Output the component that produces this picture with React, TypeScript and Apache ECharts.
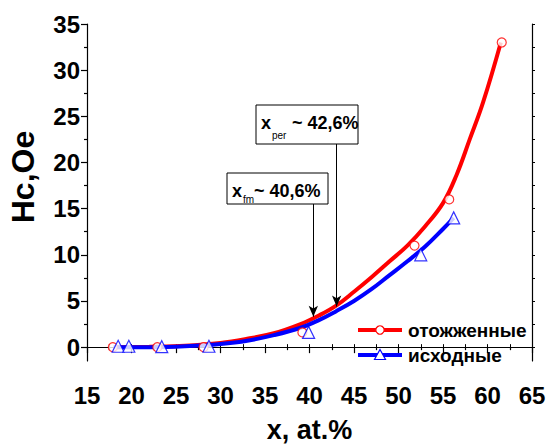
import React, { useEffect, useRef } from "react";
import * as echarts from "echarts";

// Measured points
const annealedX = [17.9, 22.9, 28.1, 39.2, 51.8, 55.7, 61.6];
const annealedY = [0, 0, 0, 1.6, 11.0, 16.0, 33.0];
const initialX = [18.5, 19.7, 23.4, 28.7, 39.9, 52.5, 56.2];
const initialY = [0.1, 0.1, 0.05, 0.1, 1.6, 10.0, 14.0];

// Fitted curves
const annealedFitX = [18, 22, 26, 30, 33, 36, 39, 41, 43, 45, 47, 49, 51, 53, 55, 56.5, 58, 59.5, 61.5];
const annealedFitY = [0, 0.05, 0.15, 0.45, 0.9, 1.5, 2.5, 3.4, 4.5, 6.0, 7.6, 9.3, 11.0, 13.1, 15.6, 18.6, 22.5, 26.5, 33];
const initialFitX = [18, 22, 26, 30, 33, 36, 39, 41, 43, 45, 47, 49, 51, 53, 55, 56.2];
const initialFitY = [0, 0, 0.1, 0.35, 0.7, 1.3, 2.1, 2.9, 3.9, 5.0, 6.3, 7.8, 9.3, 10.9, 12.8, 14.0];

// Axis ticks
const yLabelValues = [0, 5, 10, 15, 20, 25, 30, 35];
const yMinorValues = [2.5, 7.5, 12.5, 17.5, 22.5, 27.5, 32.5];
const yAllTicks = [0, 2.5, 5, 7.5, 10, 12.5, 15, 17.5, 20, 22.5, 25, 27.5, 30, 32.5, 35];

// Annotations: arrow x, arrow start y (box bottom), arrow end y (curve)
const arrowX = [40.43, 43.05];
const arrowStartY = [15.5, 22.0];
const arrowEndY = [3.3, 4.4];

const seriesNames = ["отожженные", "исходные"];
const FONT = "'Liberation Sans', Arial, sans-serif";

const zip = (xs: number[], ys: number[]) => xs.map((x, i) => [x, ys[i]]);

export default function App() {
  const ref = useRef<HTMLDivElement>(null);
  useEffect(() => {
    if (!ref.current) return;
    const chart = echarts.init(ref.current, undefined, { renderer: "svg" });
    const axisLine = { show: true, lineStyle: { color: "#000", width: 1.2 } };
    const labelStyle = { color: "#000", fontWeight: "bold" as const, fontSize: 24, fontFamily: FONT };
    const option: any = {
      animation: false,
      backgroundColor: "#fff",
      grid: { left: 87, right: 16, top: 24, bottom: 84, containLabel: false, outerBoundsMode: "none" },
      xAxis: [
        {
          type: "value",
          min: 15,
          max: 65,
          interval: 5,
          position: "bottom",
          axisLine,
          axisTick: { show: true, length: 6, inside: false, lineStyle: { color: "#000", width: 1.2 } },
          minorTick: { show: true, splitNumber: 2, length: 3, lineStyle: { color: "#000", width: 1.2 } },
          axisLabel: { ...labelStyle, margin: 22 },
          splitLine: { show: false },
          name: "x, at.%",
          nameLocation: "middle",
          nameGap: 55,
          nameTextStyle: { color: "#000", fontWeight: "bold", fontSize: 27, fontFamily: FONT },
        },
        {
          type: "value",
          min: 15,
          max: 65,
          interval: 5,
          position: "top",
          axisLine,
          axisTick: { show: true, length: 3, lineStyle: { color: "#000", width: 1 } },
          minorTick: { show: true, splitNumber: 2, length: 3, lineStyle: { color: "#000", width: 1 } },
          axisLabel: { show: false },
          splitLine: { show: false },
        },
      ],
      yAxis: [
        {
          type: "value",
          min: -1.5,
          max: 35,
          position: "left",
          axisLine,
          axisTick: { show: true, length: 6, customValues: yLabelValues, lineStyle: { color: "#000", width: 1.2 } },
          axisLabel: { ...labelStyle, margin: 7, customValues: yLabelValues },
          splitLine: { show: false },
        },
        {
          type: "value",
          min: -1.5,
          max: 35,
          position: "right",
          axisLine,
          axisTick: { show: true, length: 3, customValues: yAllTicks, lineStyle: { color: "#000", width: 1 } },
          axisLabel: { show: false },
          splitLine: { show: false },
        },
        {
          type: "value",
          min: -1.5,
          max: 35,
          position: "left",
          axisLine: { show: false },
          axisTick: { show: true, length: 3, customValues: yMinorValues, lineStyle: { color: "#000", width: 1.2 } },
          axisLabel: { show: false },
          splitLine: { show: false },
        },
      ],
      series: [
        {
          name: seriesNames[0] + " fit",
          type: "line",
          data: zip(annealedFitX, annealedFitY),
          smooth: 0.4,
          showSymbol: false,
          lineStyle: { color: "#ff0000", width: 4 },
          z: 2,
          silent: true,
          markLine: {
            silent: true,
            symbol: ["none", "arrow"],
            symbolSize: [7, 11],
            label: { show: false },
            lineStyle: { color: "#000", width: 1, type: "solid" },
            data: arrowX.map((x, i) => [
              { coord: [x, arrowStartY[i]] },
              { coord: [x, arrowEndY[i]] },
            ]),
          },
        },
        {
          name: seriesNames[1] + " fit",
          type: "line",
          data: zip(initialFitX, initialFitY),
          smooth: 0.4,
          showSymbol: false,
          lineStyle: { color: "#0000ff", width: 4 },
          z: 3,
          silent: true,
        },
        {
          name: seriesNames[0],
          type: "scatter",
          data: zip(annealedX, annealedY),
          symbol: "circle",
          symbolSize: 9,
          itemStyle: { color: "#fff", borderColor: "#ff0000", borderWidth: 1.2 },
          z: 4,
        },
        {
          name: seriesNames[1],
          type: "scatter",
          data: zip(initialX, initialY),
          symbol: "triangle",
          symbolSize: 12,
          itemStyle: { color: "#fff", borderColor: "#0000ff", borderWidth: 1.2 },
          z: 5,
        },
      ],
      graphic: [
        // y axis title
        {
          type: "text",
          x: 23,
          y: 177,
          rotation: Math.PI / 2,
          style: {
            text: "Hc,Oe",
            fill: "#000",
            font: `bold 32px ${FONT}`,
            align: "center",
            verticalAlign: "middle",
          },
        },
        // annotation box x_per
        {
          type: "rect",
          shape: { x: 256, y: 105, width: 102, height: 39 },
          style: { fill: "#fff", stroke: "#000", lineWidth: 1 },
          z: 10,
        },
        { type: "text", x: 261, y: 123, z: 11, style: { text: "x", fill: "#000", font: `bold 18px ${FONT}`, verticalAlign: "middle" } },
        { type: "text", x: 272, y: 135, z: 11, style: { text: "per", fill: "#000", font: `10px ${FONT}`, verticalAlign: "middle" } },
        { type: "text", x: 292, y: 123, z: 11, style: { text: "~ 42,6%", fill: "#000", font: `bold 18px ${FONT}`, verticalAlign: "middle" } },
        // annotation box x_fm
        {
          type: "rect",
          shape: { x: 227, y: 173, width: 101, height: 31 },
          style: { fill: "#fff", stroke: "#000", lineWidth: 1 },
          z: 10,
        },
        { type: "text", x: 232, y: 191, z: 11, style: { text: "x", fill: "#000", font: `bold 18px ${FONT}`, verticalAlign: "middle" } },
        { type: "text", x: 243, y: 199, z: 11, style: { text: "fm", fill: "#000", font: `10px ${FONT}`, verticalAlign: "middle" } },
        { type: "text", x: 254, y: 191, z: 11, style: { text: "~ 40,6%", fill: "#000", font: `bold 18px ${FONT}`, verticalAlign: "middle" } },
        // legend
        { type: "line", shape: { x1: 358, y1: 330, x2: 402, y2: 330 }, style: { stroke: "#ff0000", lineWidth: 4 }, z: 10 },
        { type: "circle", shape: { cx: 380, cy: 330, r: 4.2 }, style: { fill: "#fff", stroke: "#ff0000", lineWidth: 1.2 }, z: 11 },
        { type: "text", x: 408, y: 330, z: 11, style: { text: seriesNames[0], fill: "#000", font: `bold 19px ${FONT}`, verticalAlign: "middle" } },
        { type: "line", shape: { x1: 358, y1: 355, x2: 402, y2: 355 }, style: { stroke: "#0000ff", lineWidth: 4 }, z: 10 },
        {
          type: "polygon",
          shape: { points: [[380, 349.5], [385.5, 359.5], [374.5, 359.5]] },
          style: { fill: "#fff", stroke: "#0000ff", lineWidth: 1.2 },
          z: 11,
        },
        { type: "text", x: 408, y: 355, z: 11, style: { text: seriesNames[1], fill: "#000", font: `bold 19px ${FONT}`, verticalAlign: "middle" } },
      ],
    };
    chart.setOption(option);
    return () => chart.dispose();
  }, []);
  return <div ref={ref} style={{ width: 548, height: 445, position: "absolute", left: 0, top: 0 }} />;
}
